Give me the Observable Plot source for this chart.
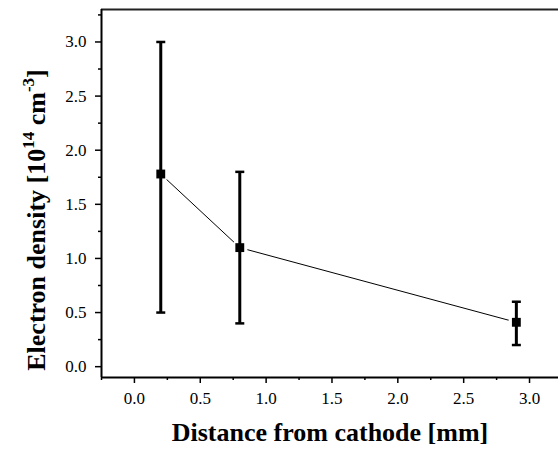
<!DOCTYPE html>
<html>
<head>
<meta charset="utf-8">
<script src="https://cdn.jsdelivr.net/npm/d3@7"></script>
<script src="https://cdn.jsdelivr.net/npm/@observablehq/plot@0.6"></script>
<style>
  html, body { margin: 0; padding: 0; background: #fff; }
  #chart { width: 558px; height: 453px; }
</style>
</head>
<body>
<div id="chart"></div>
<script>
// Data
const distance = [0.2, 0.8, 2.9];          // mm
const density  = [1.78, 1.10, 0.41];       // 10^14 cm^-3
const errLow   = [0.5, 0.4, 0.2];
const errHigh  = [3.0, 1.8, 0.6];

const xTicks = [0, 0.5, 1.0, 1.5, 2.0, 2.5, 3.0];
const xMinor = [-0.25, 0.25, 0.75, 1.25, 1.75, 2.25, 2.75];
const yTicks = [0, 0.5, 1.0, 1.5, 2.0, 2.5, 3.0];
const yMinor = [0.25, 0.75, 1.25, 1.75, 2.25, 2.75, 3.25];

const xTitle = "Distance from cathode [mm]";

const data = distance.map((d, i) => ({x: d, y: density[i], lo: errLow[i], hi: errHigh[i]}));
const capData = data.flatMap(d => [{x: d.x, y: d.lo}, {x: d.x, y: d.hi}]);

const xDomain = [-0.25, 3.22];
const yDomain = [-0.1, 3.3];
const fmt = d3.format(".1f");
const serif = "'Liberation Serif', 'Times New Roman', serif";

// horizontal-line symbol for error bar caps
const capSymbol = {
  draw(ctx, size) {
    const r = Math.sqrt(size / Math.PI);
    ctx.moveTo(-r, 0);
    ctx.lineTo(r, 0);
  }
};

const axisOpts = {fontSize: 17, fontFamily: serif, strokeWidth: 1.5, label: null};

const plot = Plot.plot({
  width: 558,
  height: 453,
  marginLeft: 101,
  marginRight: 0,
  marginTop: 9,
  marginBottom: 76,
  style: {fontFamily: serif, fontSize: "17px", background: "#fff", color: "#000"},
  x: {domain: xDomain},
  y: {domain: yDomain},
  marks: [
    Plot.axisX(xTicks, {...axisOpts, tickSize: 6, tickPadding: 8, tickFormat: fmt}),
    Plot.axisX(xMinor, {...axisOpts, tickSize: 3, tickFormat: () => ""}),
    Plot.axisY(yTicks, {...axisOpts, tickSize: 6, tickPadding: 9, tickFormat: fmt}),
    Plot.axisY(yMinor, {...axisOpts, tickSize: 3, tickFormat: () => ""}),
    Plot.ruleY([yDomain[0]], {stroke: "#000", strokeWidth: 2}),
    Plot.ruleY([yDomain[1]], {stroke: "#222", strokeWidth: 2}),
    Plot.ruleX([xDomain[0]], {stroke: "#000", strokeWidth: 2}),
    Plot.line(data, {x: "x", y: "y", stroke: "#000", strokeWidth: 1}),
    Plot.dot(data, {x: "x", y: "y", r: 8, fill: "#fff", stroke: "none"}),
    Plot.ruleX(data, {x: "x", y1: "lo", y2: "hi", stroke: "#000", strokeWidth: 3}),
    Plot.dot(capData, {x: "x", y: "y", symbol: capSymbol, r: 4.5, fill: "none", stroke: "#000", strokeWidth: 2.5}),
    Plot.dot(data, {x: "x", y: "y", symbol: "square", r: 5, fill: "#000", stroke: "none"})
  ]
});

const svg = d3.select(plot);
svg.selectAll("g[aria-label$='tick label']").attr("fill", "#000").attr("font-variant", "normal");

// Axis titles
svg.append("text")
  .attr("x", 330).attr("y", 441)
  .attr("text-anchor", "middle")
  .attr("font-family", serif)
  .attr("font-weight", "bold").attr("font-size", 26)
  .attr("fill", "#000")
  .text(xTitle);

const yt = svg.append("text")
  .attr("transform", "translate(45,220) rotate(-90)")
  .attr("text-anchor", "middle")
  .attr("font-family", serif)
  .attr("font-weight", "bold").attr("font-size", 26)
  .attr("fill", "#000");
yt.append("tspan").text("Electron density [10");
yt.append("tspan").attr("font-size", 17).attr("dy", -11).text("14");
yt.append("tspan").attr("dy", 11).text(" cm");
yt.append("tspan").attr("font-size", 17).attr("dy", -11).text("-3");
yt.append("tspan").attr("dy", 11).text("]");

document.getElementById("chart").appendChild(plot);
</script>
</body>
</html>
